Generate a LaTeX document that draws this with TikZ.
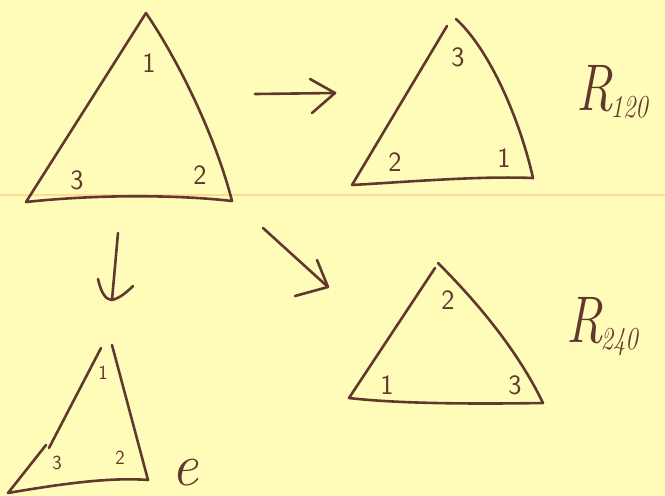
\documentclass[tikz,border=0pt]{standalone}
\usepackage{tikz}

\definecolor{padyellow}{RGB}{255,252,186}
\definecolor{ruleorange}{RGB}{255,218,150}
\definecolor{penbrown}{RGB}{98,56,46}
\newcommand{\rotsub}[1]{\kern-3pt\raisebox{-7pt}{\fontsize{32}{32}\selectfont #1}}

\begin{document}
\begin{tikzpicture}[x=1pt,y=1pt,yscale=-1,xscale=1,
  ink/.style={draw=penbrown,line width=2.6pt,line cap=round,line join=round},
  corner/.style={text=penbrown,font=\sffamily\fontsize{28}{28}\selectfont,inner sep=0pt},
  smallcorner/.style={text=penbrown,font=\sffamily\fontsize{20}{20}\selectfont,inner sep=0pt},
  rotname/.style={text=penbrown,font=\itshape\fontsize{66}{66}\selectfont,inner sep=0pt,anchor=base west,xscale=0.78}]
%paper and ruled line
\fill [padyellow] (0,0) rectangle (665,496);
\useasboundingbox (0,0) rectangle (665,496);
\draw [ruleorange,line width=1.6pt] (0,195) -- (665,195);

%Shape: Triangle (start position)
\coordinate (tA) at (146,13);
\coordinate (tB) at (232,201);
\coordinate (tC) at (26,202);
\draw [ink] (tA) .. controls (178,60) and (215,135) .. (tB) .. controls (180,195) and (100,194) .. (tC) -- cycle ;
% Text Node
\node (tA1) [corner] at (149,63) {1};
\node (tC3) [corner] at (77,180) {3};
\node (tB2) [corner] at (200,175) {2};

%Shape: Triangle (R120)
\coordinate (uA) at (447,26);
\coordinate (uA') at (456,19);
\coordinate (uB) at (533,178);
\coordinate (uC) at (352,185);
\draw [ink] (uA) -- (uC) .. controls (420,181) and (480,176) .. (uB) ;
\draw [ink] (uA') .. controls (490,50) and (520,120) .. (uB) ;
% Text Node
\node (uA3) [corner] at (458,57) {3};
\node (uC2) [corner] at (395,162) {2};
\node (uB1) [corner] at (504,158) {1};
\node (r120) [rotname] at (576,110) {R\rotsub{120}};

%Shape: Triangle (R240)
\coordinate (vA) at (435,268);
\coordinate (vA') at (438,263);
\coordinate (vB) at (543,403);
\coordinate (vC) at (349,398);
\draw [ink] (vA) -- (vC) .. controls (400,404) and (480,404) .. (vB) ;
\draw [ink] (vA') .. controls (470,295) and (515,345) .. (vB) ;
% Text Node
\node (vA2) [corner] at (448,300) {2};
\node (vC1) [corner] at (387,385) {1};
\node (vB3) [corner] at (515,385) {3};
\node (r240) [rotname] at (566,342) {R\rotsub{240}};

%Shape: Triangle (identity)
\coordinate (wA) at (101,348);
\coordinate (wA') at (112,345);
\coordinate (wK) at (49,448);
\coordinate (wK') at (46,445);
\coordinate (wB) at (148,480);
\coordinate (wC) at (8,493);
\draw [ink] (wA) -- (wK) ;
\draw [ink] (wK') -- (wC) .. controls (60,484) and (110,477) .. (wB) -- (wA') ;
% Text Node
\node (wA1) [smallcorner] at (103,373) {1};
\node (wC3) [smallcorner] at (57,463) {3};
\node (wB2) [smallcorner] at (120,458) {2};
\node (ename) [text=penbrown,font=\itshape\fontsize{60}{60}\selectfont,inner sep=0pt,anchor=base] at (185,485) {e};

%Straight Lines (arrows)
\coordinate (hS) at (255,94);
\coordinate (hE) at (335,93);
\draw [ink] (hS) -- (hE) ;
\draw [ink] (310,79) -- (hE) -- (312,113) ;
\coordinate (dS) at (118,233);
\coordinate (dE) at (112,300);
\draw [ink] (dS) -- (dE) ;
\draw [ink] (98,279) .. controls (101,293) and (106,300) .. (dE) .. controls (120,298) and (127,292) .. (133,286) ;
\coordinate (gS) at (263,228);
\coordinate (gE) at (328,287);
\draw [ink] (gS) -- (gE) ;
\draw [ink] (317,260) -- (gE) -- (295,296) ;

\end{tikzpicture}
\end{document}
